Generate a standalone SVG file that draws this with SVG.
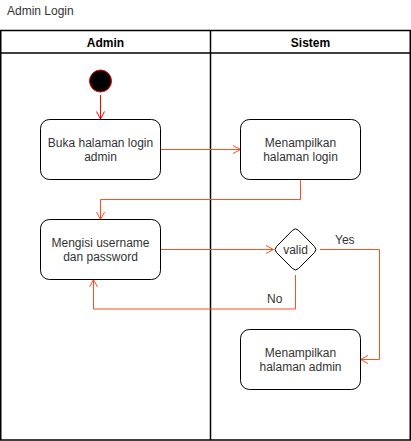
<svg xmlns="http://www.w3.org/2000/svg" width="411" height="441" viewBox="0 0 411 441">
<style>
text{font-family:"Liberation Sans",Arial,sans-serif;font-size:12px;fill:#333333}
.hdr{font-weight:bold;fill:#000}
.box{fill:#fff;stroke:#000;stroke-width:1}
.edge{fill:none;stroke:#FF4F1F;stroke-width:1}
.lane{fill:none;stroke:#000;stroke-width:1.5}
</style>
<defs>
<marker id="ao" viewBox="0 0 10 10" refX="9.5" refY="5" markerWidth="10" markerHeight="10" markerUnits="userSpaceOnUse" orient="auto">
<polyline points="2,1 9.5,5 2,9" fill="none" stroke="#FF4F1F" stroke-width="1"/>
</marker>
<marker id="ar" viewBox="0 0 10 10" refX="9.5" refY="5" markerWidth="10" markerHeight="10" markerUnits="userSpaceOnUse" orient="auto">
<polyline points="2,1 9.5,5 2,9" fill="none" stroke="#FF0000" stroke-width="1"/>
</marker>
</defs>
<text x="7" y="15">Admin Login</text>
<g id="lanes">
<rect class="lane" x="0.75" y="30.5" width="409.5" height="409.5" fill="#fff"/>
<line class="lane" x1="0.75" y1="53" x2="410.25" y2="53"/>
<line class="lane" x1="210.5" y1="30.5" x2="210.5" y2="440"/>
<text class="hdr" x="105.5" y="47" text-anchor="middle">Admin</text>
<text class="hdr" x="310.5" y="47" text-anchor="middle">Sistem</text>
</g>
<g id="connectors">
<line x1="100.5" y1="95" x2="100.5" y2="119" stroke="#FF0000" stroke-width="1" marker-end="url(#ar)"/>
<line class="edge" x1="160.5" y1="149.5" x2="240.5" y2="149.5" marker-end="url(#ao)"/>
<polyline class="edge" points="300.5,179.5 300.5,199.5 100.5,199.5 100.5,219.5" marker-end="url(#ao)"/>
<line class="edge" x1="160.5" y1="249.5" x2="273.5" y2="249.5" marker-end="url(#ao)"/>
<polyline class="edge" points="320,249.5 379.5,249.5 379.5,359.5 360.5,359.5" marker-end="url(#ao)"/>
<polyline class="edge" points="295.5,275 295.5,309 93.5,309 93.5,279.5" marker-end="url(#ao)"/>
<text x="335" y="243.5">Yes</text>
<text x="267" y="303">No</text>
</g>
<g id="start">
<circle cx="100.5" cy="81" r="11" fill="#000" stroke="#FF0000" stroke-width="1"/>
</g>
<g id="buka">
<rect class="box" x="40.5" y="119.5" width="120" height="60" rx="9"/>
<text x="100.5" y="146.5" text-anchor="middle">Buka halaman login</text>
<text x="100.5" y="160.5" text-anchor="middle">admin</text>
</g>
<g id="tampil-login">
<rect class="box" x="240.5" y="119.5" width="120" height="60" rx="9"/>
<text x="300.5" y="146.5" text-anchor="middle">Menampilkan</text>
<text x="300.5" y="160.5" text-anchor="middle">halaman login</text>
</g>
<g id="mengisi">
<rect class="box" x="40.5" y="219.5" width="120" height="60" rx="9"/>
<text x="100.5" y="246.5" text-anchor="middle">Mengisi username</text>
<text x="100.5" y="260.5" text-anchor="middle">dan password</text>
</g>
<g id="valid">
<path class="box" d="M292.5,230.3 Q295.5,227.3 298.5,230.3 L314.5,246.5 Q317.5,249.5 314.5,252.5 L298.5,268.5 Q295.5,271.5 292.5,268.5 L276.5,252.5 Q273.5,249.5 276.5,246.5 Z"/>
<text x="295.5" y="253.5" text-anchor="middle">valid</text>
</g>
<g id="tampil-admin">
<rect class="box" x="240.5" y="329.5" width="120" height="60" rx="9"/>
<text x="300.5" y="356.5" text-anchor="middle">Menampilkan</text>
<text x="300.5" y="370.5" text-anchor="middle">halaman admin</text>
</g>
</svg>
